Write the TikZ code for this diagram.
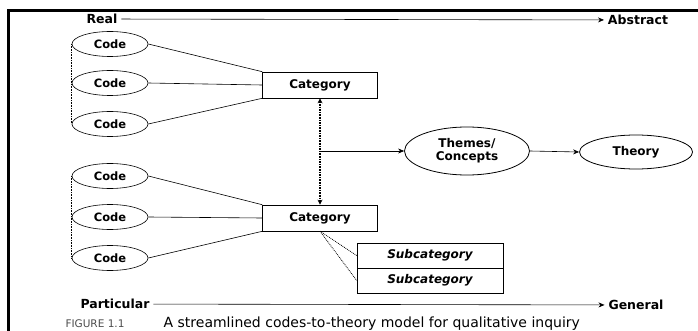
\documentclass[tikz,border=0pt]{standalone}
\usepackage{fontspec}
\setmainfont{DejaVu Sans}
\usetikzlibrary{shapes.geometric,arrows.meta}

\begin{document}
\begin{tikzpicture}[x=1pt,y=-1pt,semithick,
  code/.style={draw,ellipse,minimum width=76pt,minimum height=25pt,inner sep=0pt,
    font=\bfseries\fontsize{11.5}{12}\selectfont},
  cat/.style={draw,rectangle,minimum width=115pt,minimum height=26pt,inner sep=0pt,
    font=\bfseries\fontsize{12}{13}\selectfont},
  subcat/.style={draw,rectangle,minimum width=146pt,minimum height=25pt,inner sep=0pt,
    font=\bfseries\itshape\fontsize{12}{13}\selectfont},
  idea/.style={draw,thick,ellipse,inner sep=0pt,align=center,
    font=\bfseries\fontsize{12}{13}\selectfont},
  axis/.style={font=\bfseries\fontsize{12.5}{13}\selectfont,inner sep=1pt,outer sep=3pt},
  tip/.style={-{Stealth[length=6pt,width=5pt]}},
  link/.style={densely dotted,semithick}]
\useasboundingbox (0,0) rectangle (698,331);
% frame
\draw[line width=3pt] (8,331) -- (8,11) -- (698,11);
% axes
\node[axis] (real) at (102,19) {Real};
\node[axis] (abstract) at (638,20) {Abstract};
\node[axis] (particular) at (115,304) {Particular};
\node[axis] (general) at (636,305) {General};
\draw[tip] (real) -- (abstract);
\draw[tip] (particular) -- (general);
% upper group
\node[code] (c1) at (110,44) {Code};
\node[code] (c2) at (110,83) {Code};
\node[code] (c3) at (110,124) {Code};
\node[cat] (cat1) at (320,85) {Category};
\draw (c1.east) -- (cat1.north west);
\draw (c2.east) -- (cat1.west);
\draw (c3.east) -- (cat1.south west);
\draw[link] (c1.west) -- (c3.west);
% lower group
\node[code] (c4) at (110,176) {Code};
\node[code] (c5) at (110,217) {Code};
\node[code] (c6) at (110,258) {Code};
\node[cat] (cat2) at (320,218) {Category};
\draw (c4.east) -- (cat2.north west);
\draw (c5.east) -- (cat2.west);
\draw (c6.east) -- (cat2.south west);
\draw[link] (c4.west) -- (c6.west);
% subcategories
\node[subcat] (sub1) at (430,255.5) {Subcategory};
\node[subcat] (sub2) at (430,280.5) {Subcategory};
\draw[link,thick] (cat2.south) -- (sub1.west);
\draw[link,thick] (cat2.south) -- (sub2.west);
% themes and theory
\draw[link,line width=1.6pt,{Stealth[length=5pt,width=5pt]}-{Stealth[length=5pt,width=5pt]}] (cat1.south) -- (cat2.north);
\coordinate (fork) at (320,151);
\node[idea,minimum width=125pt,minimum height=48pt] (themes) at (467,151) {Themes/\\Concepts};
\node[idea,minimum width=113pt,minimum height=34pt] (theory) at (636,152) {Theory};
\draw[tip] (fork) -- (themes.west);
\draw[tip] (themes.east) -- (theory.west);
% caption
\node[font=\fontsize{10.5}{11}\selectfont,text=black!70] (fig) at (95,324) {FIGURE 1.1};
\node[font=\fontsize{14}{15}\selectfont,anchor=west] (caption) at (160,324)
  {A streamlined codes-to-theory model for qualitative inquiry};
\end{tikzpicture}
\end{document}
